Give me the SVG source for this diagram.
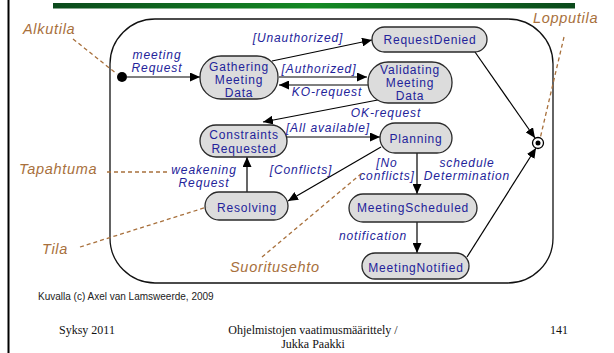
<svg xmlns="http://www.w3.org/2000/svg" width="614" height="353" viewBox="0 0 614 353">
<defs>
<linearGradient id="bar" x1="0" y1="0" x2="1" y2="0">
<stop offset="0" stop-color="#0b4a1c"/>
<stop offset="0.5" stop-color="#148a24"/>
<stop offset="1" stop-color="#0b4a1c"/>
</linearGradient>
<marker id="ah" markerUnits="userSpaceOnUse" markerWidth="11" markerHeight="9" refX="10" refY="4.5" orient="auto">
<path d="M0,0 L10,4.5 L0,9 z" fill="#000"/>
</marker>
<style>
.node rect{fill:#dcdcdc;stroke:#2a2a2a;stroke-width:1.3}
.nt{font-family:"Liberation Sans",Arial,sans-serif;font-size:12px;letter-spacing:0.8px;fill:#23239a;text-anchor:middle}
.lb{font-family:"Liberation Sans",Arial,sans-serif;font-size:12px;font-style:italic;letter-spacing:0.9px;fill:#23239a;text-anchor:middle}
.cn line{stroke:#000;stroke-width:1.2;marker-end:url(#ah)}
.an{font-family:"Liberation Sans",Arial,sans-serif;font-size:14.5px;font-style:italic;letter-spacing:0.7px;fill:#a8703c}
.ad{stroke:#a8703c;stroke-width:1.3;stroke-dasharray:4 3;fill:none}
.ft{font-family:"Liberation Serif","Times New Roman",serif;font-size:12px;fill:#111}
</style>
</defs>
<rect x="0" y="0" width="614" height="353" fill="#fff"/>
<rect x="7.5" y="0" width="2" height="353" fill="#000"/>
<rect x="53" y="3" width="522" height="5.5" fill="url(#bar)"/>

<rect id="container" x="110" y="19" width="443" height="264" rx="45" ry="45" fill="none" stroke="#111" stroke-width="1.3"/>

<g id="connectors" class="cn">
<line x1="127" y1="77" x2="200" y2="77"/>
<line x1="272" y1="61" x2="372" y2="40"/>
<line x1="279" y1="77" x2="367" y2="77"/>
<line x1="368" y1="85" x2="279" y2="85"/>
<line x1="383" y1="99" x2="263" y2="122"/>
<line x1="287" y1="137" x2="380" y2="137"/>
<line x1="381" y1="147" x2="288" y2="201"/>
<line x1="247" y1="192" x2="247" y2="157"/>
<line x1="417" y1="153" x2="417" y2="194"/>
<line x1="417" y1="222" x2="417" y2="253"/>
<line x1="467" y1="257" x2="536" y2="148"/>
<line x1="475" y1="52" x2="535" y2="138"/>
</g>

<g id="initial"><circle cx="122" cy="77" r="5" fill="#000"/></g>
<g id="final"><circle cx="538" cy="143" r="5.5" fill="#fff" stroke="#000" stroke-width="1.3"/><circle cx="538" cy="143" r="2.5" fill="#000"/></g>

<g id="gathering" class="node"><rect x="200" y="56" width="78" height="43" rx="21"/>
<text class="nt" x="239" y="71">Gathering</text><text class="nt" x="239" y="84">Meeting</text><text class="nt" x="239" y="97">Data</text></g>
<g id="requestDenied" class="node"><rect x="372" y="27" width="115" height="25" rx="12.5"/>
<text class="nt" x="430" y="44">RequestDenied</text></g>
<g id="validating" class="node"><rect x="368" y="62" width="84" height="41" rx="20"/>
<text class="nt" x="410" y="74">Validating</text><text class="nt" x="410" y="87">Meeting</text><text class="nt" x="410" y="100">Data</text></g>
<g id="constraints" class="node"><rect x="200" y="125" width="87" height="32" rx="16"/>
<text class="nt" x="244" y="139">Constraints</text><text class="nt" x="244" y="153">Requested</text></g>
<g id="planning" class="node"><rect x="380" y="123" width="72" height="30" rx="15"/>
<text class="nt" x="416" y="143">Planning</text></g>
<g id="resolving" class="node"><rect x="205" y="192" width="83" height="28" rx="14"/>
<text class="nt" x="247" y="212">Resolving</text></g>
<g id="meetingScheduled" class="node"><rect x="349" y="194" width="128" height="28" rx="14"/>
<text class="nt" x="413" y="212">MeetingScheduled</text></g>
<g id="meetingNotified" class="node"><rect x="362" y="253" width="107" height="26" rx="13"/>
<text class="nt" x="416" y="272">MeetingNotified</text></g>

<g id="labels">
<text class="lb" x="157" y="59">meeting</text><text class="lb" x="157" y="72">Request</text>
<text class="lb" x="298" y="42">[Unauthorized]</text>
<text class="lb" x="319" y="73">[Authorized]</text>
<text class="lb" x="327" y="96">KO-request</text>
<text class="lb" x="386" y="117">OK-request</text>
<text class="lb" x="328" y="132">[All available]</text>
<text class="lb" x="301" y="174">[Conflicts]</text>
<text class="lb" x="204" y="174">weakening</text><text class="lb" x="204" y="187">Request</text>
<text class="lb" x="387" y="167">[No</text><text class="lb" x="387" y="180">conflicts]</text>
<text class="lb" x="467" y="167">schedule</text><text class="lb" x="467" y="180">Determination</text>
<text class="lb" x="373" y="240">notification</text>
</g>

<g id="annotations">
<text class="an" x="23" y="34">Alkutila</text>
<line class="ad" x1="73" y1="39" x2="117" y2="74"/>
<text class="an" x="533" y="23">Lopputila</text>
<line class="ad" x1="564" y1="37" x2="540" y2="139"/>
<text class="an" x="19" y="174">Tapahtuma</text>
<line class="ad" x1="107" y1="172" x2="168" y2="172"/>
<text class="an" x="42" y="254">Tila</text>
<line class="ad" x1="80" y1="247" x2="207" y2="207"/>
<text class="an" x="230" y="272">Suoritusehto</text>
<line class="ad" x1="262" y1="257" x2="362" y2="173"/>
</g>

<g id="footer">
<text x="38" y="300" font-family="'Liberation Sans',Arial,sans-serif" font-size="10" fill="#222">Kuvalla (c) Axel van Lamsweerde, 2009</text>
<text class="ft" x="59" y="334">Syksy 2011</text>
<text class="ft" x="313" y="334" text-anchor="middle">Ohjelmistojen vaatimusmäärittely /</text>
<text class="ft" x="313" y="348" text-anchor="middle">Jukka Paakki</text>
<text class="ft" x="550" y="334">141</text>
</g>
</svg>
